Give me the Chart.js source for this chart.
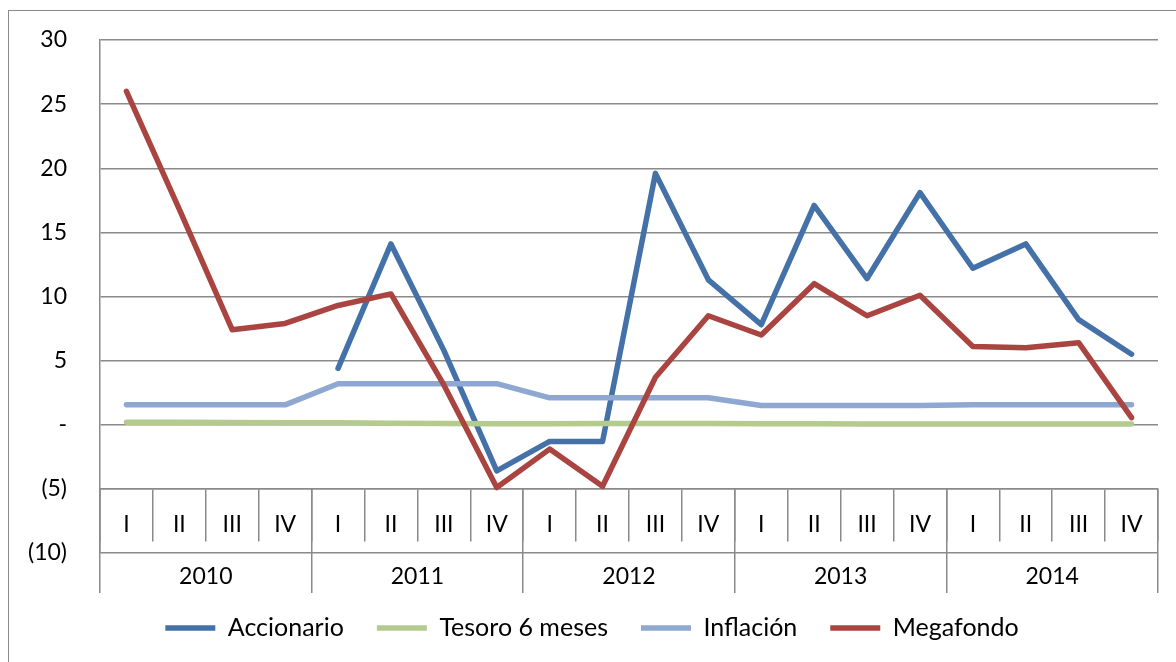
<!DOCTYPE html>
<html>
<head>
<meta charset="utf-8">
<script src="https://cdn.jsdelivr.net/npm/chart.js@4/dist/chart.umd.min.js"></script>
<style>
  html, body { margin: 0; padding: 0; background: #fff; overflow: hidden; }
  #marco {
    position: absolute; left: 8px; top: 10px; width: 1300px; height: 800px;
    border: 1.5px solid #8a8a8a;
  }
  #contenedor { position: absolute; left: 0; top: 0; width: 1176px; height: 662px; }
</style>
</head>
<body>
<div id="marco"></div>
<div id="contenedor"><canvas id="myChart"></canvas></div>
<script>
const trimestres = ['I', 'II', 'III', 'IV', 'I', 'II', 'III', 'IV', 'I', 'II', 'III', 'IV',
  'I', 'II', 'III', 'IV', 'I', 'II', 'III', 'IV'];
const anios = ['2010', '2011', '2012', '2013', '2014'];

const accionario = [null, null, null, null, 4.4, 14.1, 5.8, -3.6, -1.3, -1.3, 19.6, 11.3,
  7.8, 17.1, 11.4, 18.1, 12.2, 14.1, 8.2, 5.5];
const tesoro = [0.2, 0.2, 0.18, 0.15, 0.15, 0.12, 0.1, 0.08, 0.08, 0.1, 0.1, 0.1,
  0.08, 0.07, 0.06, 0.06, 0.05, 0.05, 0.05, 0.05];
const inflacion = [1.55, 1.55, 1.55, 1.55, 3.2, 3.2, 3.2, 3.2, 2.1, 2.1, 2.1, 2.1,
  1.5, 1.5, 1.5, 1.5, 1.55, 1.55, 1.55, 1.55];
const megafondo = [26.0, 16.8, 7.4, 7.9, 9.3, 10.2, 3.1, -4.9, -1.9, -4.8, 3.7, 8.5,
  7.0, 11.0, 8.5, 10.1, 6.1, 6.0, 6.4, 0.55];

const gris = '#8a8a8a';
const fuente = { family: 'Lato', size: 23 };

const serie = (label, data, color, order) => ({
  label,
  data,
  borderColor: color,
  backgroundColor: color,
  borderWidth: 5.5,
  borderCapStyle: 'round',
  borderJoinStyle: 'round',
  pointRadius: 0,
  tension: 0,
  order,
});

const config = {
  type: 'line',
  data: {
    labels: trimestres,
    datasets: [
      serie('Accionario', accionario, '#4471A8', 4),
      serie('Tesoro 6 meses', tesoro, '#B3CB8F', 3),
      serie('Inflación', inflacion, '#8EA8D1', 2),
      serie('Megafondo', megafondo, '#AA4441', 1),
    ],
  },
  options: {
    responsive: true,
    maintainAspectRatio: false,
    animation: false,
    layout: { padding: { left: 26, right: 18, top: 40, bottom: 11.5 } },
    plugins: {
      tooltip: { enabled: false },
      legend: {
        position: 'bottom',
        title: { display: true, text: '', font: { size: 10, lineHeight: 1 }, padding: { top: 19.5, bottom: 0 } },
        labels: {
          usePointStyle: true,
          pointStyle: 'line',
          pointStyleWidth: 50,
          padding: 33,
          color: '#000',
          font: { family: 'Lato', size: 25 },
          sort: (a, b) => a.datasetIndex - b.datasetIndex,
        },
      },
    },
    scales: {
      y: {
        min: -10,
        max: 30,
        afterFit: (scale) => { scale.width = 74; },
        ticks: {
          stepSize: 5,
          padding: 6,
          color: '#000',
          font: fuente,
          callback: (v) => (v < 0 ? `(${-v})` : v === 0 ? '-' : v),
        },
        // marcas invisibles: solo dan el espacio entre etiquetas y eje
        grid: { color: gris, lineWidth: 1.5, drawTicks: true, tickLength: 27, tickColor: 'transparent' },
        border: { display: true, color: gris, width: 1.5 },
      },
      x: {
        position: { y: -5 },
        offset: true,
        ticks: { padding: -30.5, color: '#000', font: fuente, maxRotation: 0, autoSkip: false },
        grid: { offset: true, drawOnChartArea: false, tickLength: 52, color: gris, lineWidth: 1.5 },
        border: { display: true, color: gris, width: 1.5 },
      },
      x2: {
        type: 'category',
        labels: anios,
        position: { y: -5 },
        offset: true,
        ticks: { padding: -30.5, color: '#000', font: fuente, maxRotation: 0, autoSkip: false },
        grid: { offset: true, drawOnChartArea: false, tickLength: 104, color: gris, lineWidth: 1.5 },
        border: { display: false },
      },
    },
  },
};

const myChart = document.getElementById('myChart');
new Chart(myChart, config);
</script>
</body>
</html>
